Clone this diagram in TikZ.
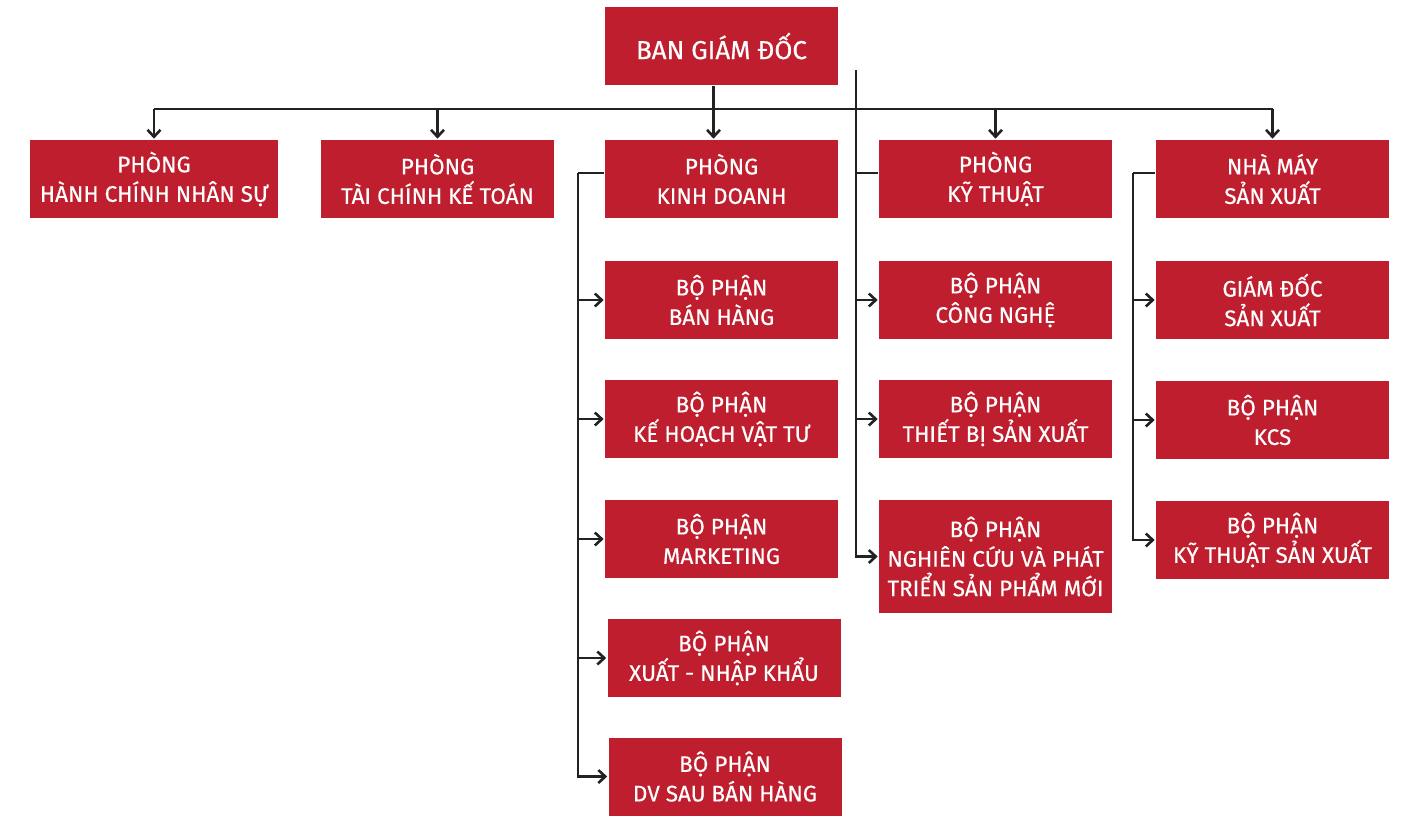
\documentclass[tikz,border=0pt]{standalone}
\usepackage{fontspec}
\setmainfont{Fira Sans}
\newfontfamily\deptfont{Fira Sans}[FakeBold=0.4]
\usetikzlibrary{arrows.meta}
\definecolor{boxred}{HTML}{BE1E2D}
\definecolor{linegray}{HTML}{222222}
\tikzset{
  dept/.style={rectangle,fill=boxred,text=white,align=center,inner sep=0pt,
    minimum width=233pt,minimum height=78pt,font=\deptfont\fontsize{22.5}{29.5}\selectfont},
}
\begin{document}
\begin{tikzpicture}
  [x=1pt,y=-1pt,line width=2.6pt,draw=linegray,
   >={Straight Barb[length=7pt,width=13pt]},every node/.style={dept}]
  \useasboundingbox (0,0) rectangle (1403,815);

  \node (bgd) at (721.5,46) [font=\deptfont\fontsize{26}{30}\selectfont] {BAN GIÁM ĐỐC};
  % phong ban
  \node (hcns) at (154,179) [minimum width=248pt] {PHÒNG\\HÀNH CHÍNH NHÂN SỰ};
  \node (tckt) at (437.5,179) {PHÒNG\\TÀI CHÍNH KẾ TOÁN};
  \node (kd) at (721.5,179) {PHÒNG\\KINH DOANH};
  \node (kt) at (995.5,179) {PHÒNG\\KỸ THUẬT};
  \node (nmsx) at (1272.5,179) {NHÀ MÁY\\SẢN XUẤT};
  % kinh doanh
  \node (bh) at (721.5,300) {BỘ PHẬN\\BÁN HÀNG};
  \node (khvt) at (721.5,419) {BỘ PHẬN\\KẾ HOẠCH VẬT TƯ};
  \node (mkt) at (721.5,539) {BỘ PHẬN\\MARKETING};
  \node (xnk) at (724,658) {BỘ PHẬN\\XUẤT - NHẬP KHẨU};
  \node (dv) at (725,776.5) {BỘ PHẬN\\DV SAU BÁN HÀNG};
  % ky thuat
  \node (cn) at (995.5,300) {BỘ PHẬN\\CÔNG NGHỆ};
  \node (tbsx) at (995.5,419) {BỘ PHẬN\\THIẾT BỊ SẢN XUẤT};
  \node (nc) at (995.5,556.5) [minimum height=113pt] {BỘ PHẬN\\NGHIÊN CỨU VÀ PHÁT\\TRIỂN SẢN PHẨM MỚI};
  % nha may
  \node (gdsx) at (1272.5,300) {GIÁM ĐỐC\\SẢN XUẤT};
  \node (kcs) at (1272.5,420) {BỘ PHẬN\\KCS};
  \node (ktsx) at (1272.5,540) {BỘ PHẬN\\KỸ THUẬT SẢN XUẤT};

  \coordinate (bus) at (713,109);
  \coordinate (kdbus) at (578,173);
  \coordinate (ktbus) at (856,70);
  \coordinate (nmbus) at (1133,173);

  \draw (hcns.north |- bus) -- (nmsx.north |- bus);
  \draw[->] ([xshift=-8pt]bgd.south) -- ([xshift=-8pt]kd.north);
  \foreach \to in {hcns,tckt,kt,nmsx}
    \draw[->] (\to.north |- bus) -- (\to.north);

  \draw (kd.west |- kdbus) -- (kdbus);
  \draw[->] (kdbus) |- (dv.west);
  \foreach \to in {bh,khvt,mkt,xnk}
    \draw[->] (kdbus |- \to.west) -- (\to.west);

  \draw (kt.west |- nmbus) -- (ktbus |- nmbus);
  \draw[->] (ktbus) |- (nc.west);
  \foreach \to in {cn,tbsx}
    \draw[->] (ktbus |- \to.west) -- (\to.west);

  \draw (nmsx.west |- nmbus) -- (nmbus);
  \draw[->] (nmbus) |- (ktsx.west);
  \foreach \to in {gdsx,kcs}
    \draw[->] (nmbus |- \to.west) -- (\to.west);

\end{tikzpicture}
\end{document}
